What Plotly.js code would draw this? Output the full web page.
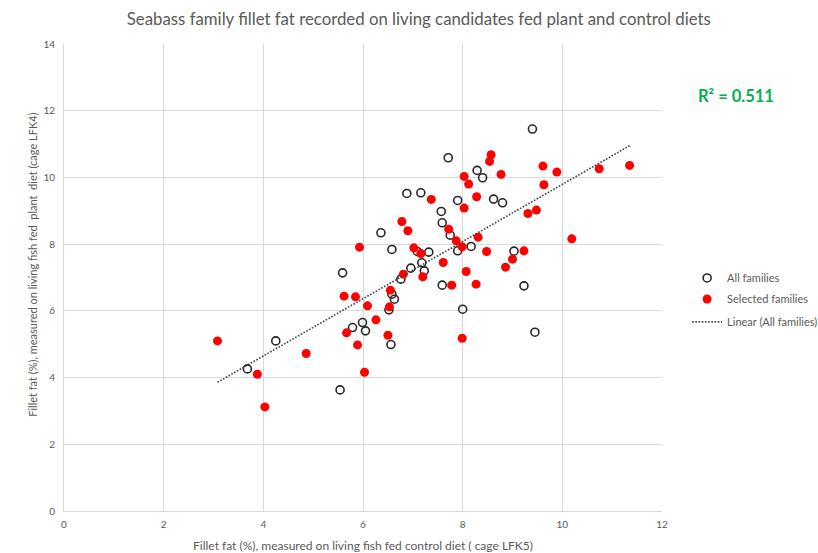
<!DOCTYPE html>
<html>
<head>
<meta charset="utf-8">
<script src="https://cdn.plot.ly/plotly-3.0.1.min.js"></script>
<style>html,body{margin:0;padding:0;background:#fff;}#chart{width:818px;height:553px;}</style>
</head>
<body>
<div id="chart"></div>
<script>
// Families not selected (open circles)
var otherX = [3.68, 4.25, 5.54, 5.59, 5.79, 5.99, 6.05, 6.56, 6.52, 6.58, 6.63, 6.76, 6.96, 7.18, 7.23, 7.59, 9.23, 8.00, 9.45, 9.40, 7.71, 8.29, 8.40, 6.88, 7.16, 7.90, 8.62, 8.80, 7.57, 7.59, 7.75, 7.90, 8.17, 9.03, 7.09, 7.32, 6.36, 6.58];
var otherY = [4.26, 5.10, 3.63, 7.14, 5.50, 5.65, 5.40, 4.99, 6.03, 6.50, 6.35, 6.95, 7.28, 7.44, 7.20, 6.77, 6.75, 6.05, 5.36, 11.45, 10.59, 10.21, 9.99, 9.52, 9.54, 9.31, 9.35, 9.24, 8.98, 8.64, 8.27, 7.80, 7.93, 7.79, 7.78, 7.76, 8.34, 7.84];
// Selected families (red dots)
var selX = [3.08, 3.88, 4.03, 4.86, 5.62, 5.85, 5.67, 5.89, 6.03, 6.09, 6.26, 6.50, 6.53, 6.55, 6.81, 7.61, 7.20, 8.07, 7.78, 8.27, 7.99, 8.86, 9.00, 8.57, 8.54, 8.03, 8.12, 8.77, 9.61, 9.89, 9.63, 10.74, 11.35, 7.37, 8.28, 8.03, 6.78, 6.90, 7.72, 8.31, 7.87, 7.99, 8.48, 9.23, 9.31, 9.48, 10.19, 7.02, 7.16, 5.93];
var selY = [5.10, 4.10, 3.12, 4.72, 6.44, 6.42, 5.34, 4.98, 4.16, 6.15, 5.73, 5.27, 6.12, 6.62, 7.10, 7.45, 7.02, 7.18, 6.77, 6.80, 5.18, 7.31, 7.55, 10.68, 10.48, 10.03, 9.80, 10.09, 10.34, 10.16, 9.78, 10.26, 10.36, 9.34, 9.42, 9.08, 8.68, 8.40, 8.45, 8.21, 8.10, 7.92, 7.78, 7.80, 8.92, 9.02, 8.16, 7.89, 7.72, 7.91];
var r2Label = "R² = 0.511";

// Linear trend over all families
var allX = otherX.concat(selX), allY = otherY.concat(selY);
var n = allX.length, mx = 0, my = 0;
for (var i = 0; i < n; i++) { mx += allX[i]; my += allY[i]; }
mx /= n; my /= n;
var sxy = 0, sxx = 0;
for (var i = 0; i < n; i++) { sxy += (allX[i]-mx)*(allY[i]-my); sxx += (allX[i]-mx)*(allX[i]-mx); }
var slope = sxy/sxx, icpt = my - slope*mx;
var xmin = Math.min.apply(null, allX), xmax = Math.max.apply(null, allX);
var trendX = [xmin, xmax], trendY = [icpt + slope*xmin, icpt + slope*xmax];

var F = "Lato, 'Open Sans', sans-serif";
var G = "#595959";

var traces = [
  {x: otherX, y: otherY, type: 'scatter', mode: 'markers', name: 'All families', legend: 'legend',
   marker: {symbol: 'circle-open', size: 8, color: '#262626', line: {width: 1.6}}},
  {x: selX, y: selY, type: 'scatter', mode: 'markers', name: 'Selected families', legend: 'legend2',
   marker: {symbol: 'circle', size: 9, color: '#ff0000'}},
  {x: trendX, y: trendY, type: 'scatter', mode: 'lines', name: 'Linear (All families)', legend: 'legend3',
   line: {color: '#404040', width: 1.6, dash: '1.6px,1.6px'}}
];

function leg(y) {
  return {x: 1.042, xanchor: 'left', y: y, yanchor: 'middle', bgcolor: 'rgba(0,0,0,0)',
          font: {family: F, size: 11, color: G}, itemclick: false};
}

var layout = {
  width: 818, height: 553,
  margin: {l: 64, r: 156, t: 44, b: 42, autoexpand: false},
  paper_bgcolor: '#fff', plot_bgcolor: '#fff',
  font: {family: F, color: G},
  title: {text: 'Seabass family fillet fat recorded on living candidates fed plant and control diets',
          font: {family: F, size: 16.8, color: G}, x: 0.512, xanchor: 'center', xref: 'container',
          y: 0.966, yanchor: 'middle', yref: 'container'},
  xaxis: {range: [0, 12], dtick: 2, tick0: 0, showgrid: true, gridcolor: '#d9d9d9', gridwidth: 1,
          zeroline: false, showline: true, linecolor: '#d9d9d9', ticks: '', ticklabelstandoff: 4,
          tickfont: {family: F, size: 10, color: G},
          title: {text: 'Fillet fat (%), measured on living fish fed control diet ( cage LFK5)',
                  font: {family: F, size: 12, color: G}, standoff: 14}},
  yaxis: {range: [0, 14], dtick: 2, tick0: 0, showgrid: true, gridcolor: '#d9d9d9', gridwidth: 1,
          zeroline: false, showline: true, linecolor: '#d9d9d9', ticks: '', ticklabelstandoff: 6,
          tickfont: {family: F, size: 10, color: G}},
  showlegend: true,
  legend: leg(0.499),
  legend2: leg(0.454),
  legend3: leg(0.405),
  annotations: [
    {text: 'Fillet fat (%), measured on living fish fed  plant  diet (cage LFK4)', xref: 'paper', yref: 'paper',
     x: -0.052, y: 0.527, xanchor: 'center', yanchor: 'middle', textangle: -90, showarrow: false,
     font: {family: F, size: 11, color: G}},
    {text: '<b>' + r2Label + '</b>', xref: 'paper', yref: 'paper', x: 1.057, y: 0.889,
     xanchor: 'left', yanchor: 'middle', showarrow: false, font: {family: F, size: 16.5, color: '#00b050'}}
  ]
};

Plotly.newPlot('chart', traces, layout, {displayModeBar: false, staticPlot: true});
</script>
</body>
</html>
